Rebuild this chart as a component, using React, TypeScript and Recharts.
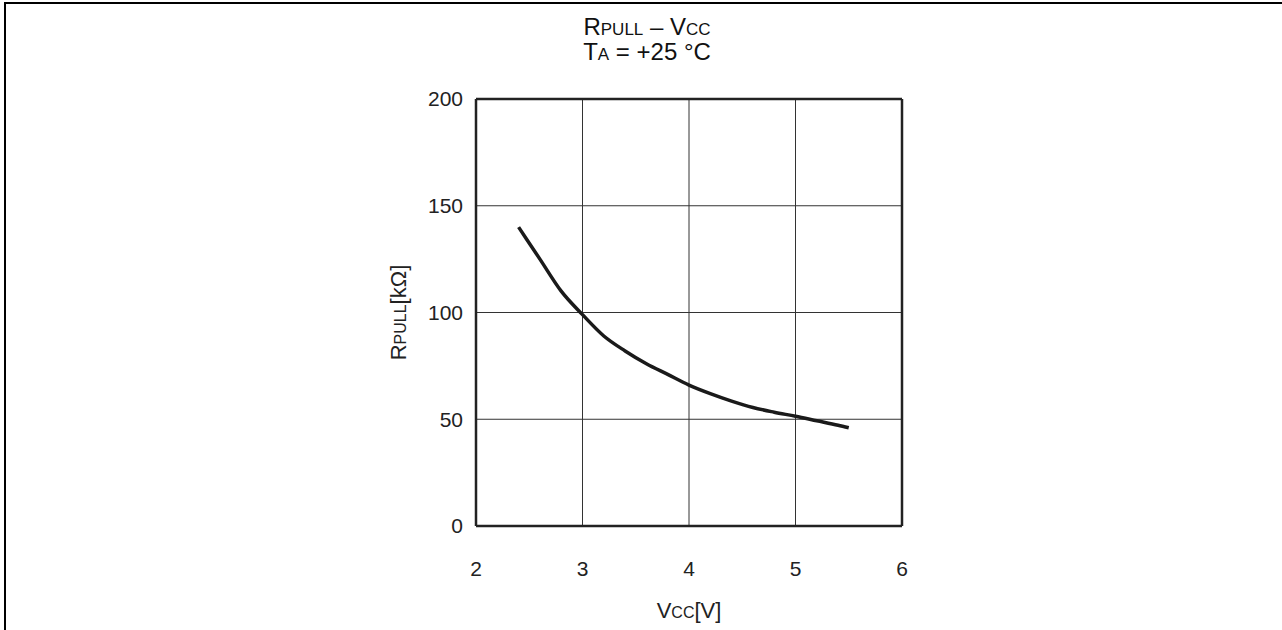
import { CartesianGrid, Label, Line, LineChart, ReferenceLine, XAxis, YAxis } from "recharts";

// Vcc [V] sampled along the curve
const vcc = [2.4, 2.6, 2.8, 3.0, 3.2, 3.4, 3.6, 3.8, 4.0, 4.2, 4.4, 4.6, 4.8, 5.0, 5.2, 5.4, 5.5];
// Rpull [kOhm]
const rpull = [140, 125, 110, 99, 89, 82, 76, 71, 66, 62, 58.5, 55.5, 53.3, 51.4, 49.3, 47.2, 46];

const xTicks = [2, 3, 4, 5, 6];
const yTicks = [0, 50, 100, 150, 200];

const data = vcc.map((v, i) => ({ v, r: rpull[i] }));

const FONT = "'Liberation Sans', Arial, Helvetica, sans-serif";
const INK = "#222";

export default function App() {
    const big = 22;
    const small = 16;
    const tBig = 24;
    const tSmall = 17;

    return <div style={{ position: "absolute", left: 0, top: 0, width: 1282, height: 630, background: "#fff", fontFamily: FONT }}>
        <div style={{ position: "absolute", left: 4, top: 2, width: 1278, height: 628, borderTop: "2px solid #000", borderLeft: "2px solid #000" }} />

        <div style={{ position: "absolute", left: 447, width: 400, top: 15, textAlign: "center", fontSize: tBig, lineHeight: "24px", color: "#111" }}>
            R<span style={{ fontSize: tSmall }}>PULL</span> – V<span style={{ fontSize: tSmall }}>CC</span>
        </div>
        <div style={{ position: "absolute", left: 447, width: 400, top: 40, textAlign: "center", fontSize: tBig, lineHeight: "24px", color: "#111" }}>
            T<span style={{ fontSize: tSmall }}>A</span> = +25 °C
        </div>

        <LineChart width={1282} height={630} data={data} margin={{ top: 99, right: 380, bottom: 74, left: 0 }}>
            <CartesianGrid stroke="#333" strokeWidth={1} />
            <XAxis
                dataKey="v"
                type="number"
                domain={[2, 6]}
                ticks={xTicks}
                height={30}
                tickSize={0}
                tickMargin={35}
                axisLine={{ stroke: INK, strokeWidth: 2.5 }}
                tick={{ fill: INK, fontSize: 21, fontFamily: FONT }}
                interval={0}
            >
                <Label content={({ viewBox }: any) => (
                    <text x={viewBox.x + viewBox.width / 2} y={viewBox.y + 92} textAnchor="middle" fill={INK} fontFamily={FONT} fontSize={big}>
                        V<tspan fontSize={small}>CC</tspan>[V]
                    </text>
                )} />
            </XAxis>
            <YAxis
                type="number"
                domain={[0, 200]}
                ticks={yTicks}
                width={476}
                tickSize={0}
                tickMargin={13}
                axisLine={{ stroke: INK, strokeWidth: 2.5 }}
                tick={{ fill: INK, fontSize: 21, fontFamily: FONT }}
                interval={0}
            >
                <Label content={({ viewBox }: any) => {
                    const cx = 406;
                    const cy = viewBox.y + viewBox.height / 2;
                    return <text x={cx} y={cy} transform={`rotate(-90 ${cx} ${cy})`} textAnchor="middle" fill={INK} fontFamily={FONT} fontSize={big}>
                        R<tspan fontSize={small}>PULL</tspan>[kΩ]
                    </text>;
                }} />
            </YAxis>
            <ReferenceLine y={200} stroke={INK} strokeWidth={2.5} />
            <ReferenceLine x={6} stroke={INK} strokeWidth={2.5} />
            <Line type="monotone" dataKey="r" stroke="#1a1a1a" strokeWidth={3.5} dot={false} isAnimationActive={false} />
        </LineChart>
    </div>;
}
